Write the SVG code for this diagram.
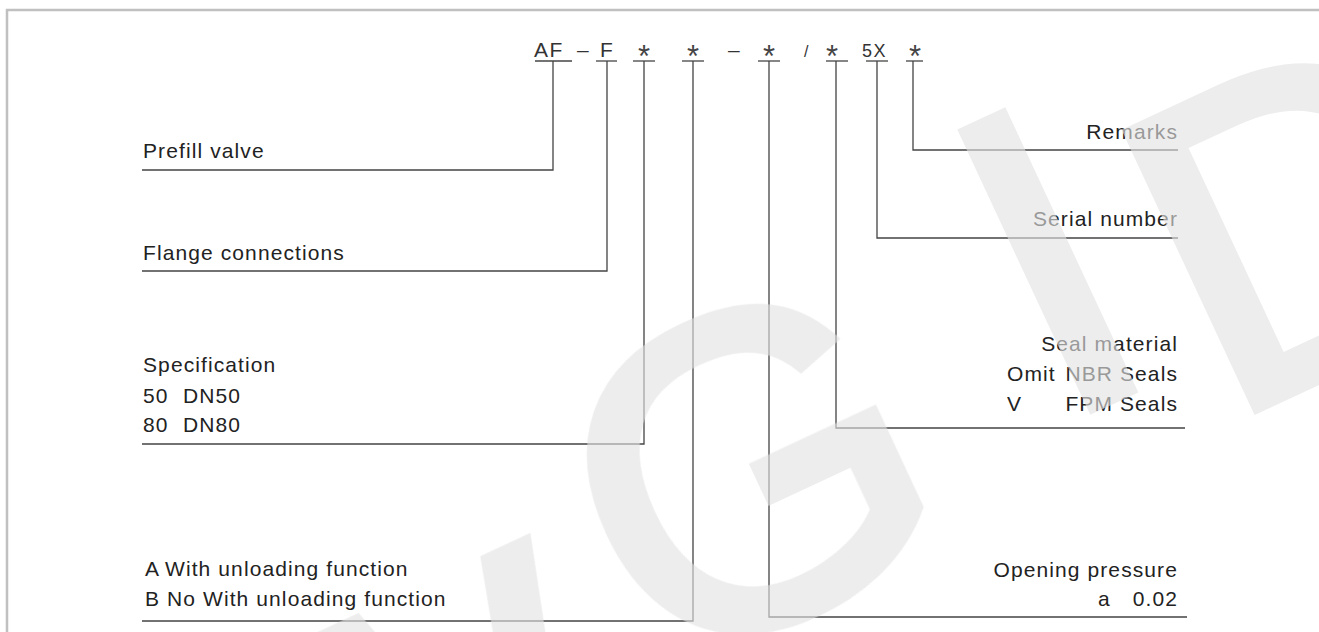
<svg xmlns="http://www.w3.org/2000/svg" width="1319" height="632" viewBox="0 0 1319 632">
<style>
.t{font-family:"Liberation Sans",Arial,sans-serif;font-size:21px;fill:#222;letter-spacing:1.1px}
.r{text-anchor:end}
.c{font-family:"Liberation Sans",Arial,sans-serif;font-size:21px;fill:#333;letter-spacing:1.5px}
.a{font-family:"Liberation Sans",Arial,sans-serif;font-size:31px;fill:#444;text-anchor:middle}
.ln{fill:none;stroke:#444;stroke-width:1.3}
.wm{font-family:"Liberation Sans",Arial,sans-serif;font-size:440px;fill:#e2e2e2;stroke:#e2e2e2;stroke-width:12;text-anchor:middle}
</style>
<rect width="1319" height="632" fill="#fff"/>
<rect x="7" y="10" width="1330" height="640" fill="none" stroke="#c0c0c0" stroke-width="2.5"/>
<g id="code">
<text class="c" x="534" y="57">AF</text>
<text class="c" x="577" y="57">–</text>
<text class="c" x="600" y="57">F</text>
<text class="a" x="644" y="67">*</text>
<text class="a" x="693" y="67">*</text>
<text class="c" x="728" y="57">–</text>
<text class="a" x="769" y="67">*</text>
<text class="c" x="804" y="57" style="font-size:16px">/</text>
<text class="a" x="832" y="67">*</text>
<text class="c" x="862" y="57" style="font-size:18px">5X</text>
<text class="a" x="915" y="67">*</text>
</g>
<g id="connectors">
<polyline class="ln" points="535,61 572,61"/>
<polyline class="ln" points="553,61 553,170 142,170"/>
<polyline class="ln" points="596,61 617,61"/>
<polyline class="ln" points="607,61 607,271 142,271"/>
<polyline class="ln" points="633,61 655,61"/>
<polyline class="ln" points="644,61 644,444 142,444"/>
<polyline class="ln" points="682,61 704,61"/>
<polyline class="ln" points="693,61 693,621 142,621"/>
<polyline class="ln" points="758,61 780,61"/>
<polyline class="ln" points="769,61 769,617 1187,617"/>
<polyline class="ln" points="826,61 848,61"/>
<polyline class="ln" points="836,61 836,428 1185,428"/>
<polyline class="ln" points="866,61 888,61"/>
<polyline class="ln" points="877,61 877,238 1178,238"/>
<polyline class="ln" points="906,61 923,61"/>
<polyline class="ln" points="913,61 913,150 1178,150"/>
</g>
<g id="prefill"><text class="t" x="143" y="158">Prefill valve</text></g>
<g id="flange"><text class="t" x="143" y="260">Flange connections</text></g>
<g id="spec">
<text class="t" x="143" y="372">Specification</text>
<text class="t" x="143" y="403">50</text><text class="t" x="183" y="403">DN50</text>
<text class="t" x="143" y="432">80</text><text class="t" x="183" y="432">DN80</text>
</g>
<g id="unloading">
<text class="t" x="145" y="576">A</text><text class="t" x="165" y="576">With unloading function</text>
<text class="t" x="145" y="606">B</text><text class="t" x="167" y="606">No With unloading function</text>
</g>
<g id="remarks"><text class="t r" x="1178" y="139">Remarks</text></g>
<g id="serial"><text class="t r" x="1178" y="226">Serial number</text></g>
<g id="seal">
<text class="t r" x="1178" y="351">Seal material</text>
<text class="t" x="1007" y="381">Omit</text><text class="t r" x="1178" y="381">NBR Seals</text>
<text class="t" x="1007" y="411">V</text><text class="t r" x="1178" y="411">FPM Seals</text>
</g>
<g id="pressure">
<text class="t r" x="1178" y="577">Opening pressure</text>
<text class="t" x="1098" y="606">a</text><text class="t r" x="1178" y="606">0.02</text>
</g>
<g id="watermark" opacity="0.62">
<text class="wm" y="158" transform="translate(400,760) rotate(-25)">W</text>
<text class="wm" y="158" transform="translate(745,465) rotate(-25)">G</text>
<text class="wm" y="158" transform="translate(1045,255) rotate(-25)">I</text>
<text class="wm" y="158" transform="translate(1302,212) rotate(-25)">D</text>
</g>
</svg>
